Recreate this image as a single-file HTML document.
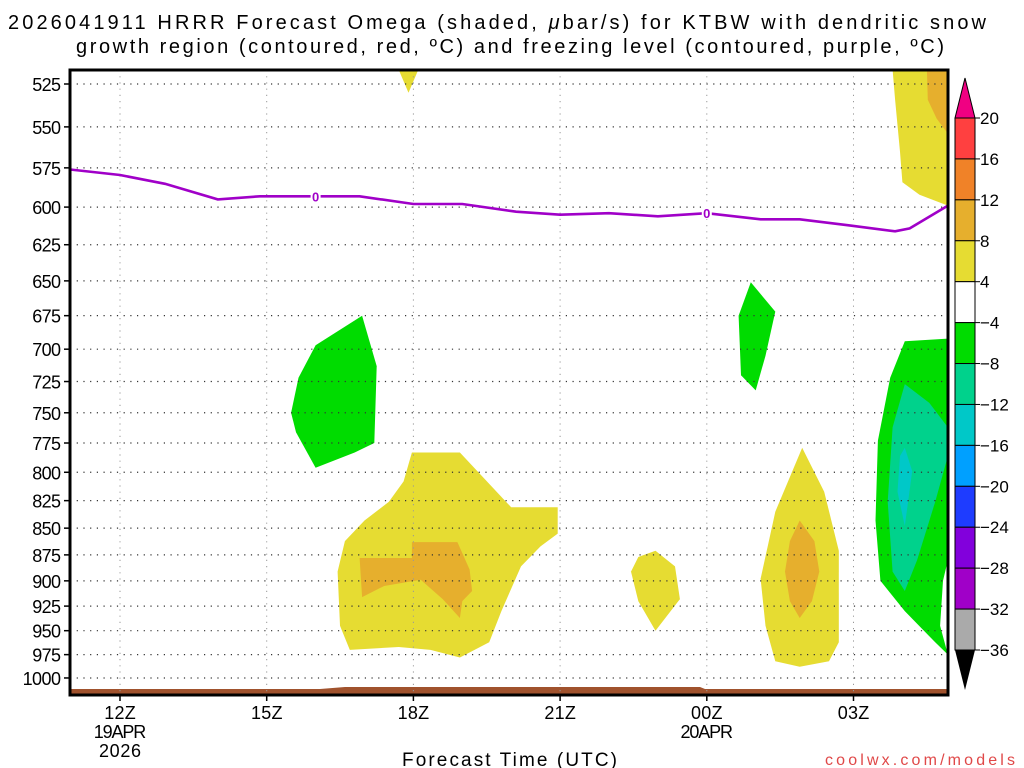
<!DOCTYPE html>
<html><head><meta charset="utf-8"><style>
html,body{margin:0;padding:0;background:#fff;}
svg{display:block;font-family:"Liberation Sans",sans-serif;}
</style></head><body>
<svg id="chart" width="1024" height="768" viewBox="0 0 1024 768">
<text x="8" y="29" font-size="20" textLength="978" lengthAdjust="spacing">2026041911 HRRR Forecast Omega (shaded, <tspan font-style="italic">μ</tspan>bar/s) for KTBW with dendritic snow</text>
<text x="76" y="53" font-size="20" textLength="868" lengthAdjust="spacing">growth region (contoured, red, ºC) and freezing level (contoured, purple, ºC)</text>
<g id="shading"></g>
<g id="grid"></g>
<g id="frz"></g>
<g id="axes"></g>
<g id="cbar"></g>
<text x="402" y="766" font-size="19" textLength="215" lengthAdjust="spacing">Forecast Time (UTC)</text>
<text x="825" y="765" font-size="16" fill="#e04848" textLength="190" lengthAdjust="spacing">coolwx.com/models</text>
</svg>
<script>
const levels=[525,550,575,600,625,650,675,700,725,750,775,800,825,850,875,900,925,950,975,1000];
const xTicks=[12,15,18,21,24,27];
const xTickLabels=["12Z","15Z","18Z","21Z","00Z","03Z"];
const xTickSub=[["19APR","2026"],[],[],[],["20APR"],[]];
const frzHours=[10.98,12,12.92,14,14.86,16.9,18,19,20.1,21,22,23,24,25.1,25.9,26.9,27.85,28.15,28.93];
const frzPres=[576,579.5,585,595,593,593,598,598,603,605,604,606,604,608,608,612,616,614,599];
const frzLabelHours=[16,24];
const cbLevels=[20,16,12,8,4,-4,-8,-12,-16,-20,-24,-28,-32,-36];
const cbColors=["#ff4040","#f08228","#e6af2d","#e6dc32","#ffffff","#00dc00","#00d28c","#00c8c8","#00a0ff","#1e3cff","#8200dc","#a000c8","#aaaaaa"];
const regions=[
 {v:-6,pts:[[16,697],[16.95,675],[17.25,713],[17.2,775],[16.8,783],[16,796],[15.6,766],[15.5,750],[15.65,722]]},
 {v:6,pts:[[17.7,517],[18.1,517],[17.9,530]]},
 {v:6,pts:[[17.97,783],[18.95,783],[20.0,831],[20.95,831],[20.95,855],[20.6,867],[20.2,886],[19.8,930],[19.55,962],[18.95,978],[18.35,970],[17.7,967],[16.7,970],[16.5,945],[16.45,891],[16.6,862],[17,843],[17.5,826],[17.8,808]]},
 {v:10,pts:[[16.9,878],[17.97,878],[17.97,863],[18.9,863],[19.15,889],[19.2,910],[19,920],[18.95,937],[18.6,918],[18.15,899],[17.4,905],[16.95,916]]},
 {v:6,pts:[[22.95,871],[23.35,886],[23.45,918],[22.95,950],[22.6,920],[22.45,891],[22.6,877]]},
 {v:-6,pts:[[24.9,651],[25.4,672],[25.2,705],[25,732],[24.7,720],[24.65,675]]},
 {v:6,pts:[[25.95,779],[26.4,817],[26.7,871],[26.7,962],[26.5,982],[25.9,988],[25.4,982],[25.2,945],[25.1,898],[25.4,835]]},
 {v:10,pts:[[25.9,843],[26.2,862],[26.3,891],[26.15,920],[25.9,937],[25.7,920],[25.6,891],[25.7,862]]},
 {v:6,pts:[[27.8,517],[28.93,517],[28.93,599],[28.35,592],[28,584],[27.95,565],[27.85,534]]},
 {v:10,pts:[[28.5,517],[28.93,517],[28.93,554],[28.7,545],[28.52,534]]},
 {v:-6,pts:[[28.05,694],[28.93,692],[28.93,880],[28.83,900],[28.77,945],[28.93,975],[28.67,962],[28.05,930],[27.55,900],[27.45,843],[27.5,773],[27.75,722]]},
 {v:-10,pts:[[28.05,727],[28.55,742],[28.93,762],[28.93,786],[28.67,826],[28.3,880],[28.05,910],[27.8,891],[27.7,826],[27.8,762]]},
 {v:-14,pts:[[28.05,779],[28.2,799],[28.05,848],[27.9,817],[27.95,786]]}
];
const L=70,R=948,T=70,B=695;
const X=h=>120+(h-12)*48.9;
const Y=p=>84+921.8*Math.log(p/525);
const NS="http://www.w3.org/2000/svg";
function mk(tag,attrs,parent){const e=document.createElementNS(NS,tag);for(const k in attrs)e.setAttribute(k,attrs[k]);parent.appendChild(e);return e;}
function colorFor(v){for(let i=0;i<cbColors.length;i++){if(v<=cbLevels[i]&&v>cbLevels[i+1])return cbColors[i];}return "#fff";}
const gS=document.getElementById('shading');
regions.forEach((r)=>{
 const p=mk('polygon',{points:r.pts.map(q=>X(q[0]).toFixed(1)+','+Y(q[1]).toFixed(1)).join(' '),fill:colorFor(r.v),stroke:'none'},gS);
 
 
});
const gr=mk('path',{d:`M${L},689 L320,689 L345,687 L700,687 L705,689 L${R},689 L${R},${B} L${L},${B} Z`,fill:'#a0522d'},gS);


const gG=document.getElementById('grid');
levels.forEach(p=>{
 const y=Y(p);
 const l=mk('line',{x1:L,x2:R,y1:y,y2:y,stroke:'#333','stroke-width':1.2,'stroke-dasharray':'1.2 5.5'},gG);
 
 
});
xTicks.forEach(h=>{
 const x=X(h);
 const l=mk('line',{x1:x,x2:x,y1:T,y2:B,stroke:'#999','stroke-width':1,'stroke-dasharray':'1.2 5'},gG);
 
 
});
const gF=document.getElementById('frz');
const fl=mk('polyline',{points:frzHours.map((h,i)=>X(h).toFixed(1)+','+Y(frzPres[i]).toFixed(1)).join(' '),fill:'none',stroke:'#a000c8','stroke-width':2.6},gF);


function interpP(h){for(let i=0;i<frzHours.length-1;i++){if(h>=frzHours[i]&&h<=frzHours[i+1]){const t=(h-frzHours[i])/(frzHours[i+1]-frzHours[i]);return frzPres[i]+t*(frzPres[i+1]-frzPres[i]);}}return frzPres[0];}
frzLabelHours.forEach(h=>{
 const x=X(h),y=Y(interpP(h));
 mk('rect',{x:x-5,y:y-7,width:10,height:13,fill:'#fff'},gF);
 const t=mk('text',{x:x,y:y+5,'font-size':13,'font-weight':'bold',fill:'#a000c8','text-anchor':'middle'},gF);
 t.textContent='0';
 
 
});
const gA=document.getElementById('axes');
const fr=mk('rect',{x:L,y:T,width:R-L,height:B-T,fill:'none',stroke:'#000','stroke-width':3},gA);


levels.forEach(p=>{
 const y=Y(p);
 mk('line',{x1:L-6,x2:L,y1:y,y2:y,stroke:'#000','stroke-width':1.5},gA);
 const s=String(p);
 const w=s.length*9.6;
 const t=mk('text',{x:L-9-w,y:y+7,'font-size':18,textLength:w,lengthAdjust:'spacing'},gA);
 t.textContent=s;
 
 
});
function ctext(str,x,y,parent,name){
 const w=str.length*10.5;
 const t=mk('text',{x:x-w/2,y:y,'font-size':18,textLength:w,lengthAdjust:'spacing'},parent);
 t.textContent=str;
 
 
}
xTicks.forEach((h,i)=>{
 const x=X(h);
 mk('line',{x1:x,x2:x,y1:B,y2:B+6,stroke:'#000','stroke-width':1.5},gA);
 ctext(xTickLabels[i],x,719,gA,'x-tick-label');
 xTickSub[i].forEach((s,j)=>{
  ctext(s,x,738+j*19,gA,'x-date-label');
 });
});
const gC=document.getElementById('cbar');
const cx=955,cw=20,ctop=118,step=(650-118)/(cbLevels.length-1);
const up=mk('polygon',{points:`${cx},${ctop} ${cx+cw},${ctop} ${cx+cw/2},${ctop-40}`,fill:'#f00082',stroke:'#000'},gC);


cbColors.forEach((c,i)=>{
 const r=mk('rect',{x:cx,y:ctop+i*step,width:cw,height:step,fill:c,stroke:'#000','stroke-width':1},gC);
 
 
});
const dn=mk('polygon',{points:`${cx},650 ${cx+cw},650 ${cx+cw/2},690`,fill:'#000'},gC);


cbLevels.forEach((v,i)=>{
 const y=ctop+i*step;
 mk('line',{x1:cx+cw,x2:cx+cw+5,y1:y,y2:y,stroke:'#000'},gC);
 const t=mk('text',{x:cx+cw+5,y:y+6,'font-size':17},gC);
 t.textContent=v<0?'\u2212'+(-v):String(v);
 
 
});
</script>
</body></html>
